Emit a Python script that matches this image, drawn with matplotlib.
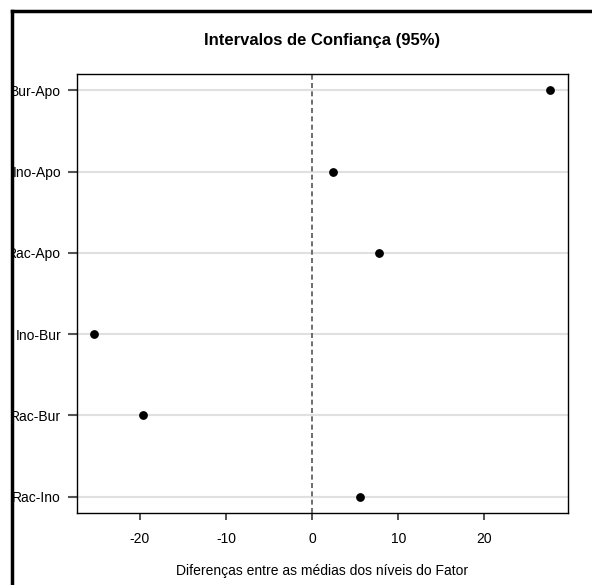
import matplotlib.pyplot as plt
from matplotlib.patches import Rectangle
from matplotlib.lines import Line2D

# comparacoes e diferencas estimadas
comparacoes = ['Bur-Apo', 'Ino-Apo', 'Rac-Apo', 'Ino-Bur', 'Rac-Bur', 'Rac-Ino']
diferencas = [27.6, 2.4, 7.8, -25.3, -19.6, 5.6]
xticks = [-20, -10, 0, 10, 20]

plt.rcParams['font.family'] = ['Liberation Sans', 'DejaVu Sans']

W, H = 592, 585
fig = plt.figure(figsize=(W / 100, H / 100), dpi=100)
ax = fig.add_axes([77 / W, 1 - 513 / H, (568 - 77) / W, (513 - 74) / H])

pos = list(range(len(comparacoes), 0, -1))
for p in pos:
    ax.axhline(p, color='#e0e0e0', lw=1.5, zorder=1)
ax.axvline(0, color='#555555', lw=1.2, ls=(0, (3, 2)), zorder=2)
ax.scatter(diferencas, pos, s=28, color='black', zorder=3)

ax.set_xlim(-27.3, 29.7)
ax.set_ylim(0.8, 6.2)
ax.set_xticks(xticks)
ax.set_xticklabels([str(t) for t in xticks], fontsize=10)
ax.set_yticks(pos)
ax.set_yticklabels(comparacoes, fontsize=10)
ax.tick_params(axis='x', length=5, width=1.2, color='#333333', pad=9)
ax.tick_params(axis='y', length=6.5, width=1.5, color='#555555', pad=5)
for s in ax.spines.values():
    s.set_linewidth(1.0)
    s.set_color('black')

ax.set_xlabel('Diferenças entre as médias dos níveis do Fator', fontsize=10, labelpad=13)
fig.text((77 + 568) / 2 / W, 1 - 40 / H, 'Intervalos de Confiança (95%)',
         ha='center', va='center', fontsize=12, fontweight='bold')

# moldura externa
fig.patches.append(Rectangle((0, 0), 12 / W, 1, transform=fig.transFigure,
                             facecolor='white', edgecolor='none', zorder=10))
fig.lines.append(Line2D([12 / W, 12 / W], [0, 1 - 11 / H], transform=fig.transFigure,
                        color='black', lw=2.5, zorder=11))
fig.lines.append(Line2D([12 / W, 1], [1 - 11 / H, 1 - 11 / H], transform=fig.transFigure,
                        color='black', lw=2.5, zorder=11))

plt.savefig('out.png', dpi=100)
